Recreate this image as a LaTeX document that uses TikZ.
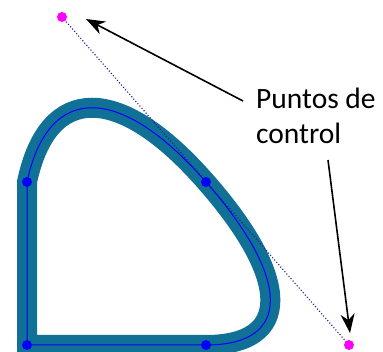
\documentclass[tikz,border=0pt]{standalone}
\usepackage{fontspec}
\setmainfont{Carlito}
\usetikzlibrary{arrows.meta,calc}
\definecolor{band}{RGB}{16,112,150}
\definecolor{ctrl}{RGB}{255,0,255}
\definecolor{dotc}{RGB}{30,30,150}
\tikzset{
  bandline/.style={line width=20pt, draw=band, line join=miter, miter limit=10},
  centerline/.style={line width=1pt, draw=blue, line join=miter},
  knot/.style={circle, fill=blue, inner sep=0pt, minimum size=10pt},
  ctrlpt/.style={circle, fill=ctrl, inner sep=0pt, minimum size=10pt},
  guide/.style={dotc, dotted, line width=1.1pt},
  pointer/.style={line width=1.6pt, -{Stealth[length=19pt, width=14pt, inset=6pt]}},
  lbl/.style={font=\fontsize{29.5}{35}\selectfont, align=left, inner sep=0pt, anchor=north west}
}
\begin{document}
\begin{tikzpicture}[x=1pt, y=-1pt]
\useasboundingbox (0,0) rectangle (383,352);
\coordinate (A) at (27,345);
\coordinate (B) at (27,182);
\coordinate (C) at (206,182);
\coordinate (D) at (206,345);
\coordinate (P) at (62,17);
\coordinate (Q) at (349,345);
% controls at 0.6 toward the guide points
\coordinate (B1) at ($(B)!0.6!(P)$);
\coordinate (C1) at ($(C)!0.6!(P)$);
\coordinate (C2) at ($(C)!0.6!(Q)$);
\coordinate (D1) at ($(D)!0.6!(Q)$);
\draw[bandline] (A) -- (B) .. controls (B1) and (C1) .. (C) .. controls (C2) and (D1) .. (D) -- cycle;
\draw[centerline] (A) -- (B) .. controls (B1) and (C1) .. (C) .. controls (C2) and (D1) .. (D) -- cycle;
\draw[guide] (P) -- (Q);
\node[knot] (kA) at (A) {};
\node[knot] (kB) at (B) {};
\node[knot] (kC) at (C) {};
\node[knot] (kD) at (D) {};
\node[ctrlpt] (cP) at (P) {};
\node[ctrlpt] (cQ) at (Q) {};
\node[lbl] (txt) at (256,88) {Puntos de\\control};
\coordinate (s1) at (243,101);
\coordinate (t1) at (86,19);
\coordinate (s2) at (328,160);
\coordinate (t2) at (350,333);
\draw[pointer] (s1) -- (t1);
\draw[pointer] (s2) -- (t2);
\end{tikzpicture}
\end{document}
